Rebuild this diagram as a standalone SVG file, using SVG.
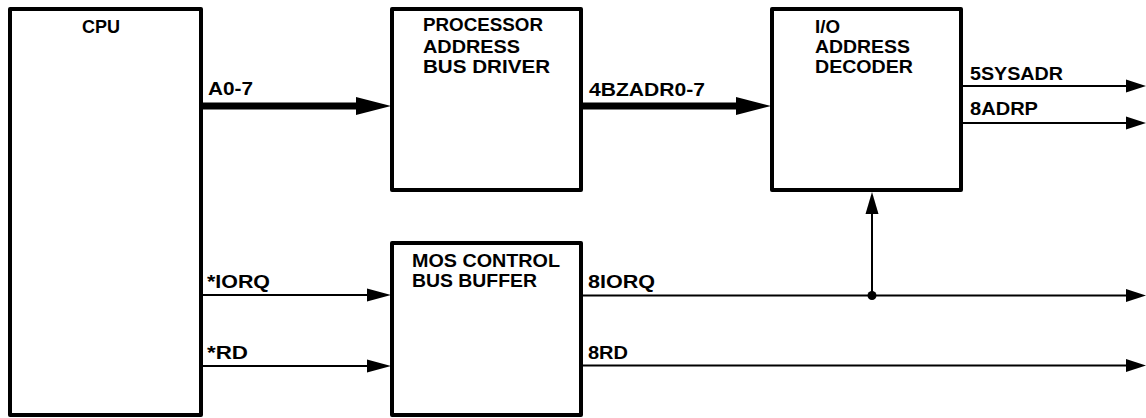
<svg xmlns="http://www.w3.org/2000/svg" width="1146" height="418" viewBox="0 0 1146 418">
<style>
.box{fill:#fff;stroke:#000;stroke-width:4;stroke-linejoin:round}
.t{font-family:"Liberation Sans",Arial,sans-serif;font-weight:bold;font-size:18px;fill:#000}
.bus{stroke:#000;stroke-width:7;fill:none}
.sig{stroke:#000;stroke-width:2;fill:none}
.head{fill:#000}
</style>
<rect width="1146" height="418" fill="#fff"/>
<g id="cpu">
<rect class="box" x="10" y="9" width="191" height="406"/>
<text class="t" x="82" y="33" textLength="38" lengthAdjust="spacingAndGlyphs">CPU</text>
</g>
<g id="proc-addr-driver">
<rect class="box" x="392" y="9" width="189" height="181"/>
<text class="t" x="423" y="31" textLength="120" lengthAdjust="spacingAndGlyphs">PROCESSOR</text>
<text class="t" x="423" y="53" textLength="97" lengthAdjust="spacingAndGlyphs">ADDRESS</text>
<text class="t" x="423" y="73" textLength="127" lengthAdjust="spacingAndGlyphs">BUS DRIVER</text>
</g>
<g id="io-decoder">
<rect class="box" x="772" y="9" width="189" height="181"/>
<text class="t" x="815" y="33" textLength="25" lengthAdjust="spacingAndGlyphs">I/O</text>
<text class="t" x="815" y="53" textLength="95" lengthAdjust="spacingAndGlyphs">ADDRESS</text>
<text class="t" x="815" y="73" textLength="98" lengthAdjust="spacingAndGlyphs">DECODER</text>
</g>
<g id="mos-buffer">
<rect class="box" x="392" y="243" width="189" height="172"/>
<text class="t" x="412" y="267" textLength="148" lengthAdjust="spacingAndGlyphs">MOS CONTROL</text>
<text class="t" x="412" y="287" textLength="125" lengthAdjust="spacingAndGlyphs">BUS BUFFER</text>
</g>
<g id="connectors">
<line class="bus" x1="203" y1="106" x2="360" y2="106"/>
<polygon class="head" points="356,97 391,106 356,115"/>
<line class="bus" x1="583" y1="106" x2="740" y2="106"/>
<polygon class="head" points="736,97 771,106 736,115"/>
<line class="sig" x1="963" y1="86" x2="1130" y2="86"/>
<polygon class="head" points="1126,79.5 1146,86 1126,92.5"/>
<line class="sig" x1="963" y1="123" x2="1130" y2="123"/>
<polygon class="head" points="1126,116.5 1146,123 1126,129.5"/>
<line class="sig" x1="203" y1="295" x2="370" y2="295"/>
<polygon class="head" points="367,288.5 391,295 367,301.5"/>
<line class="sig" x1="203" y1="366" x2="370" y2="366"/>
<polygon class="head" points="367,359.5 391,366 367,372.5"/>
<line class="sig" x1="583" y1="295.5" x2="1130" y2="295.5"/>
<polygon class="head" points="1126,289 1146,295.5 1126,302"/>
<line class="sig" x1="583" y1="365.5" x2="1130" y2="365.5"/>
<polygon class="head" points="1126,359 1146,365.5 1126,372"/>
<line class="sig" x1="872" y1="295.5" x2="872" y2="210"/>
<polygon class="head" points="865.5,214 872,192 878.5,214"/>
<circle cx="872" cy="295.5" r="4.5" fill="#000"/>
<text class="t" x="208" y="95" textLength="45" lengthAdjust="spacingAndGlyphs">A0-7</text>
<text class="t" x="589" y="96" textLength="116" lengthAdjust="spacingAndGlyphs">4BZADR0-7</text>
<text class="t" x="970" y="80" textLength="93" lengthAdjust="spacingAndGlyphs">5SYSADR</text>
<text class="t" x="970" y="115" textLength="68" lengthAdjust="spacingAndGlyphs">8ADRP</text>
<text class="t" x="207" y="288" textLength="63" lengthAdjust="spacingAndGlyphs">*IORQ</text>
<text class="t" x="207" y="359" textLength="41" lengthAdjust="spacingAndGlyphs">*RD</text>
<text class="t" x="588" y="288" textLength="67" lengthAdjust="spacingAndGlyphs">8IORQ</text>
<text class="t" x="588" y="359" textLength="40" lengthAdjust="spacingAndGlyphs">8RD</text>
</g>
</svg>
